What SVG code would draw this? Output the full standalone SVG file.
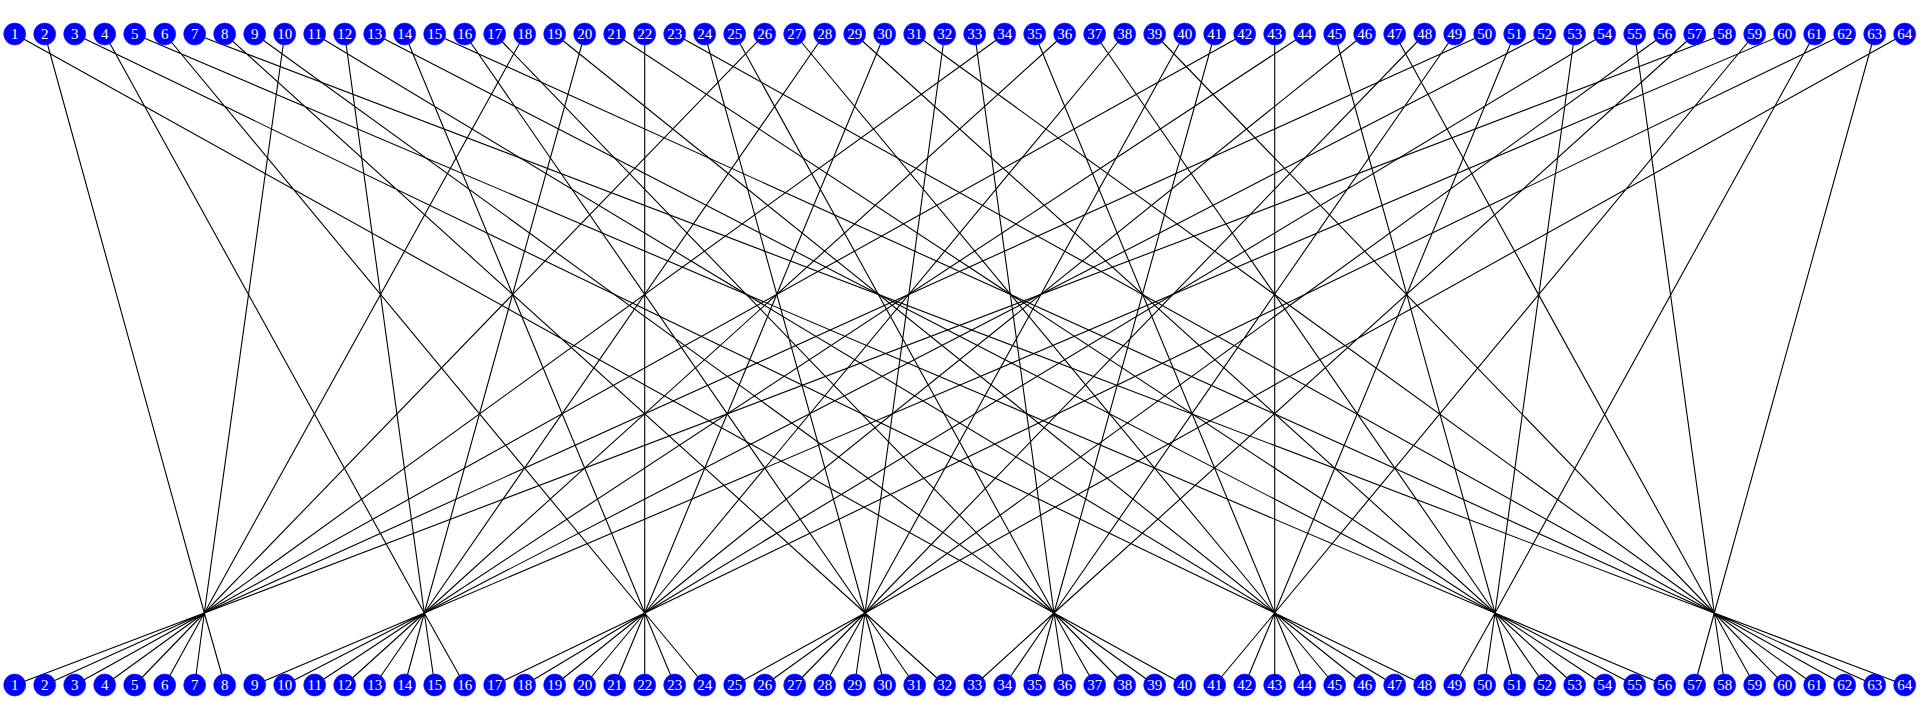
<svg xmlns="http://www.w3.org/2000/svg" width="1920" height="701" viewBox="0 0 1920 701">
<style>
.e path{fill:none;stroke:#000;stroke-width:1.1}
.n circle{fill:#0000ff;stroke:#1a1aff;stroke-width:0.6}
.n text{fill:#fff;font-family:"Liberation Serif","Times New Roman",serif;font-size:15px;text-anchor:middle}
</style>
<rect width="1920" height="701" fill="#fff"/>
<g id="connectors" class="e">
<path d="M14.7 34L1054 613M44.7 34L204.3 613M74.7 34L1274.7 613M104.7 34L424.3 613M134.7 34L1495 613M164.7 34L644.7 613M194.7 34L1714.3 613M224.7 34L865 613"/>
<path d="M254.7 34L1054 613M284.7 34L204.3 613M314.7 34L1274.7 613M344.7 34L424.3 613M374.7 34L1495 613M404.7 34L644.7 613M434.7 34L1714.3 613M464.7 34L865 613"/>
<path d="M494.7 34L1054 613M524.7 34L204.3 613M554.7 34L1274.7 613M584.7 34L424.3 613M614.7 34L1495 613M644.7 34L644.7 613M674.7 34L1714.3 613M704.7 34L865 613"/>
<path d="M734.7 34L1054 613M764.7 34L204.3 613M794.7 34L1274.7 613M824.7 34L424.3 613M854.7 34L1495 613M884.7 34L644.7 613M914.7 34L1714.3 613M944.7 34L865 613"/>
<path d="M974.7 34L1054 613M1004.7 34L204.3 613M1034.7 34L1274.7 613M1064.7 34L424.3 613M1094.7 34L1495 613M1124.7 34L644.7 613M1154.7 34L1714.3 613M1184.7 34L865 613"/>
<path d="M1214.7 34L1054 613M1244.7 34L204.3 613M1274.7 34L1274.7 613M1304.7 34L424.3 613M1334.7 34L1495 613M1364.7 34L644.7 613M1394.7 34L1714.3 613M1424.7 34L865 613"/>
<path d="M1454.7 34L1054 613M1484.7 34L204.3 613M1514.7 34L1274.7 613M1544.7 34L424.3 613M1574.7 34L1495 613M1604.7 34L644.7 613M1634.7 34L1714.3 613M1664.7 34L865 613"/>
<path d="M1694.7 34L1054 613M1724.7 34L204.3 613M1754.7 34L1274.7 613M1784.7 34L424.3 613M1814.7 34L1495 613M1844.7 34L644.7 613M1874.7 34L1714.3 613M1904.7 34L865 613"/>
<path d="M204.3 613L14.7 685M204.3 613L44.7 685M204.3 613L74.7 685M204.3 613L104.7 685M204.3 613L134.7 685M204.3 613L164.7 685M204.3 613L194.7 685M204.3 613L224.7 685"/>
<path d="M424.3 613L254.7 685M424.3 613L284.7 685M424.3 613L314.7 685M424.3 613L344.7 685M424.3 613L374.7 685M424.3 613L404.7 685M424.3 613L434.7 685M424.3 613L464.7 685"/>
<path d="M644.7 613L494.7 685M644.7 613L524.7 685M644.7 613L554.7 685M644.7 613L584.7 685M644.7 613L614.7 685M644.7 613L644.7 685M644.7 613L674.7 685M644.7 613L704.7 685"/>
<path d="M865 613L734.7 685M865 613L764.7 685M865 613L794.7 685M865 613L824.7 685M865 613L854.7 685M865 613L884.7 685M865 613L914.7 685M865 613L944.7 685"/>
<path d="M1054 613L974.7 685M1054 613L1004.7 685M1054 613L1034.7 685M1054 613L1064.7 685M1054 613L1094.7 685M1054 613L1124.7 685M1054 613L1154.7 685M1054 613L1184.7 685"/>
<path d="M1274.7 613L1214.7 685M1274.7 613L1244.7 685M1274.7 613L1274.7 685M1274.7 613L1304.7 685M1274.7 613L1334.7 685M1274.7 613L1364.7 685M1274.7 613L1394.7 685M1274.7 613L1424.7 685"/>
<path d="M1495 613L1454.7 685M1495 613L1484.7 685M1495 613L1514.7 685M1495 613L1544.7 685M1495 613L1574.7 685M1495 613L1604.7 685M1495 613L1634.7 685M1495 613L1664.7 685"/>
<path d="M1714.3 613L1694.7 685M1714.3 613L1724.7 685M1714.3 613L1754.7 685M1714.3 613L1784.7 685M1714.3 613L1814.7 685M1714.3 613L1844.7 685M1714.3 613L1874.7 685M1714.3 613L1904.7 685"/>
</g>
<g class="n">
<g id="t1" transform="translate(14.7,34)"><circle r="11"/><text y="5">1</text></g>
<g id="t2" transform="translate(44.7,34)"><circle r="11"/><text y="5">2</text></g>
<g id="t3" transform="translate(74.7,34)"><circle r="11"/><text y="5">3</text></g>
<g id="t4" transform="translate(104.7,34)"><circle r="11"/><text y="5">4</text></g>
<g id="t5" transform="translate(134.7,34)"><circle r="11"/><text y="5">5</text></g>
<g id="t6" transform="translate(164.7,34)"><circle r="11"/><text y="5">6</text></g>
<g id="t7" transform="translate(194.7,34)"><circle r="11"/><text y="5">7</text></g>
<g id="t8" transform="translate(224.7,34)"><circle r="11"/><text y="5">8</text></g>
<g id="t9" transform="translate(254.7,34)"><circle r="11"/><text y="5">9</text></g>
<g id="t10" transform="translate(284.7,34)"><circle r="11"/><text y="5">10</text></g>
<g id="t11" transform="translate(314.7,34)"><circle r="11"/><text y="5">11</text></g>
<g id="t12" transform="translate(344.7,34)"><circle r="11"/><text y="5">12</text></g>
<g id="t13" transform="translate(374.7,34)"><circle r="11"/><text y="5">13</text></g>
<g id="t14" transform="translate(404.7,34)"><circle r="11"/><text y="5">14</text></g>
<g id="t15" transform="translate(434.7,34)"><circle r="11"/><text y="5">15</text></g>
<g id="t16" transform="translate(464.7,34)"><circle r="11"/><text y="5">16</text></g>
<g id="t17" transform="translate(494.7,34)"><circle r="11"/><text y="5">17</text></g>
<g id="t18" transform="translate(524.7,34)"><circle r="11"/><text y="5">18</text></g>
<g id="t19" transform="translate(554.7,34)"><circle r="11"/><text y="5">19</text></g>
<g id="t20" transform="translate(584.7,34)"><circle r="11"/><text y="5">20</text></g>
<g id="t21" transform="translate(614.7,34)"><circle r="11"/><text y="5">21</text></g>
<g id="t22" transform="translate(644.7,34)"><circle r="11"/><text y="5">22</text></g>
<g id="t23" transform="translate(674.7,34)"><circle r="11"/><text y="5">23</text></g>
<g id="t24" transform="translate(704.7,34)"><circle r="11"/><text y="5">24</text></g>
<g id="t25" transform="translate(734.7,34)"><circle r="11"/><text y="5">25</text></g>
<g id="t26" transform="translate(764.7,34)"><circle r="11"/><text y="5">26</text></g>
<g id="t27" transform="translate(794.7,34)"><circle r="11"/><text y="5">27</text></g>
<g id="t28" transform="translate(824.7,34)"><circle r="11"/><text y="5">28</text></g>
<g id="t29" transform="translate(854.7,34)"><circle r="11"/><text y="5">29</text></g>
<g id="t30" transform="translate(884.7,34)"><circle r="11"/><text y="5">30</text></g>
<g id="t31" transform="translate(914.7,34)"><circle r="11"/><text y="5">31</text></g>
<g id="t32" transform="translate(944.7,34)"><circle r="11"/><text y="5">32</text></g>
<g id="t33" transform="translate(974.7,34)"><circle r="11"/><text y="5">33</text></g>
<g id="t34" transform="translate(1004.7,34)"><circle r="11"/><text y="5">34</text></g>
<g id="t35" transform="translate(1034.7,34)"><circle r="11"/><text y="5">35</text></g>
<g id="t36" transform="translate(1064.7,34)"><circle r="11"/><text y="5">36</text></g>
<g id="t37" transform="translate(1094.7,34)"><circle r="11"/><text y="5">37</text></g>
<g id="t38" transform="translate(1124.7,34)"><circle r="11"/><text y="5">38</text></g>
<g id="t39" transform="translate(1154.7,34)"><circle r="11"/><text y="5">39</text></g>
<g id="t40" transform="translate(1184.7,34)"><circle r="11"/><text y="5">40</text></g>
<g id="t41" transform="translate(1214.7,34)"><circle r="11"/><text y="5">41</text></g>
<g id="t42" transform="translate(1244.7,34)"><circle r="11"/><text y="5">42</text></g>
<g id="t43" transform="translate(1274.7,34)"><circle r="11"/><text y="5">43</text></g>
<g id="t44" transform="translate(1304.7,34)"><circle r="11"/><text y="5">44</text></g>
<g id="t45" transform="translate(1334.7,34)"><circle r="11"/><text y="5">45</text></g>
<g id="t46" transform="translate(1364.7,34)"><circle r="11"/><text y="5">46</text></g>
<g id="t47" transform="translate(1394.7,34)"><circle r="11"/><text y="5">47</text></g>
<g id="t48" transform="translate(1424.7,34)"><circle r="11"/><text y="5">48</text></g>
<g id="t49" transform="translate(1454.7,34)"><circle r="11"/><text y="5">49</text></g>
<g id="t50" transform="translate(1484.7,34)"><circle r="11"/><text y="5">50</text></g>
<g id="t51" transform="translate(1514.7,34)"><circle r="11"/><text y="5">51</text></g>
<g id="t52" transform="translate(1544.7,34)"><circle r="11"/><text y="5">52</text></g>
<g id="t53" transform="translate(1574.7,34)"><circle r="11"/><text y="5">53</text></g>
<g id="t54" transform="translate(1604.7,34)"><circle r="11"/><text y="5">54</text></g>
<g id="t55" transform="translate(1634.7,34)"><circle r="11"/><text y="5">55</text></g>
<g id="t56" transform="translate(1664.7,34)"><circle r="11"/><text y="5">56</text></g>
<g id="t57" transform="translate(1694.7,34)"><circle r="11"/><text y="5">57</text></g>
<g id="t58" transform="translate(1724.7,34)"><circle r="11"/><text y="5">58</text></g>
<g id="t59" transform="translate(1754.7,34)"><circle r="11"/><text y="5">59</text></g>
<g id="t60" transform="translate(1784.7,34)"><circle r="11"/><text y="5">60</text></g>
<g id="t61" transform="translate(1814.7,34)"><circle r="11"/><text y="5">61</text></g>
<g id="t62" transform="translate(1844.7,34)"><circle r="11"/><text y="5">62</text></g>
<g id="t63" transform="translate(1874.7,34)"><circle r="11"/><text y="5">63</text></g>
<g id="t64" transform="translate(1904.7,34)"><circle r="11"/><text y="5">64</text></g>
<g id="b1" transform="translate(14.7,685)"><circle r="11"/><text y="5">1</text></g>
<g id="b2" transform="translate(44.7,685)"><circle r="11"/><text y="5">2</text></g>
<g id="b3" transform="translate(74.7,685)"><circle r="11"/><text y="5">3</text></g>
<g id="b4" transform="translate(104.7,685)"><circle r="11"/><text y="5">4</text></g>
<g id="b5" transform="translate(134.7,685)"><circle r="11"/><text y="5">5</text></g>
<g id="b6" transform="translate(164.7,685)"><circle r="11"/><text y="5">6</text></g>
<g id="b7" transform="translate(194.7,685)"><circle r="11"/><text y="5">7</text></g>
<g id="b8" transform="translate(224.7,685)"><circle r="11"/><text y="5">8</text></g>
<g id="b9" transform="translate(254.7,685)"><circle r="11"/><text y="5">9</text></g>
<g id="b10" transform="translate(284.7,685)"><circle r="11"/><text y="5">10</text></g>
<g id="b11" transform="translate(314.7,685)"><circle r="11"/><text y="5">11</text></g>
<g id="b12" transform="translate(344.7,685)"><circle r="11"/><text y="5">12</text></g>
<g id="b13" transform="translate(374.7,685)"><circle r="11"/><text y="5">13</text></g>
<g id="b14" transform="translate(404.7,685)"><circle r="11"/><text y="5">14</text></g>
<g id="b15" transform="translate(434.7,685)"><circle r="11"/><text y="5">15</text></g>
<g id="b16" transform="translate(464.7,685)"><circle r="11"/><text y="5">16</text></g>
<g id="b17" transform="translate(494.7,685)"><circle r="11"/><text y="5">17</text></g>
<g id="b18" transform="translate(524.7,685)"><circle r="11"/><text y="5">18</text></g>
<g id="b19" transform="translate(554.7,685)"><circle r="11"/><text y="5">19</text></g>
<g id="b20" transform="translate(584.7,685)"><circle r="11"/><text y="5">20</text></g>
<g id="b21" transform="translate(614.7,685)"><circle r="11"/><text y="5">21</text></g>
<g id="b22" transform="translate(644.7,685)"><circle r="11"/><text y="5">22</text></g>
<g id="b23" transform="translate(674.7,685)"><circle r="11"/><text y="5">23</text></g>
<g id="b24" transform="translate(704.7,685)"><circle r="11"/><text y="5">24</text></g>
<g id="b25" transform="translate(734.7,685)"><circle r="11"/><text y="5">25</text></g>
<g id="b26" transform="translate(764.7,685)"><circle r="11"/><text y="5">26</text></g>
<g id="b27" transform="translate(794.7,685)"><circle r="11"/><text y="5">27</text></g>
<g id="b28" transform="translate(824.7,685)"><circle r="11"/><text y="5">28</text></g>
<g id="b29" transform="translate(854.7,685)"><circle r="11"/><text y="5">29</text></g>
<g id="b30" transform="translate(884.7,685)"><circle r="11"/><text y="5">30</text></g>
<g id="b31" transform="translate(914.7,685)"><circle r="11"/><text y="5">31</text></g>
<g id="b32" transform="translate(944.7,685)"><circle r="11"/><text y="5">32</text></g>
<g id="b33" transform="translate(974.7,685)"><circle r="11"/><text y="5">33</text></g>
<g id="b34" transform="translate(1004.7,685)"><circle r="11"/><text y="5">34</text></g>
<g id="b35" transform="translate(1034.7,685)"><circle r="11"/><text y="5">35</text></g>
<g id="b36" transform="translate(1064.7,685)"><circle r="11"/><text y="5">36</text></g>
<g id="b37" transform="translate(1094.7,685)"><circle r="11"/><text y="5">37</text></g>
<g id="b38" transform="translate(1124.7,685)"><circle r="11"/><text y="5">38</text></g>
<g id="b39" transform="translate(1154.7,685)"><circle r="11"/><text y="5">39</text></g>
<g id="b40" transform="translate(1184.7,685)"><circle r="11"/><text y="5">40</text></g>
<g id="b41" transform="translate(1214.7,685)"><circle r="11"/><text y="5">41</text></g>
<g id="b42" transform="translate(1244.7,685)"><circle r="11"/><text y="5">42</text></g>
<g id="b43" transform="translate(1274.7,685)"><circle r="11"/><text y="5">43</text></g>
<g id="b44" transform="translate(1304.7,685)"><circle r="11"/><text y="5">44</text></g>
<g id="b45" transform="translate(1334.7,685)"><circle r="11"/><text y="5">45</text></g>
<g id="b46" transform="translate(1364.7,685)"><circle r="11"/><text y="5">46</text></g>
<g id="b47" transform="translate(1394.7,685)"><circle r="11"/><text y="5">47</text></g>
<g id="b48" transform="translate(1424.7,685)"><circle r="11"/><text y="5">48</text></g>
<g id="b49" transform="translate(1454.7,685)"><circle r="11"/><text y="5">49</text></g>
<g id="b50" transform="translate(1484.7,685)"><circle r="11"/><text y="5">50</text></g>
<g id="b51" transform="translate(1514.7,685)"><circle r="11"/><text y="5">51</text></g>
<g id="b52" transform="translate(1544.7,685)"><circle r="11"/><text y="5">52</text></g>
<g id="b53" transform="translate(1574.7,685)"><circle r="11"/><text y="5">53</text></g>
<g id="b54" transform="translate(1604.7,685)"><circle r="11"/><text y="5">54</text></g>
<g id="b55" transform="translate(1634.7,685)"><circle r="11"/><text y="5">55</text></g>
<g id="b56" transform="translate(1664.7,685)"><circle r="11"/><text y="5">56</text></g>
<g id="b57" transform="translate(1694.7,685)"><circle r="11"/><text y="5">57</text></g>
<g id="b58" transform="translate(1724.7,685)"><circle r="11"/><text y="5">58</text></g>
<g id="b59" transform="translate(1754.7,685)"><circle r="11"/><text y="5">59</text></g>
<g id="b60" transform="translate(1784.7,685)"><circle r="11"/><text y="5">60</text></g>
<g id="b61" transform="translate(1814.7,685)"><circle r="11"/><text y="5">61</text></g>
<g id="b62" transform="translate(1844.7,685)"><circle r="11"/><text y="5">62</text></g>
<g id="b63" transform="translate(1874.7,685)"><circle r="11"/><text y="5">63</text></g>
<g id="b64" transform="translate(1904.7,685)"><circle r="11"/><text y="5">64</text></g>
</g>
</svg>
